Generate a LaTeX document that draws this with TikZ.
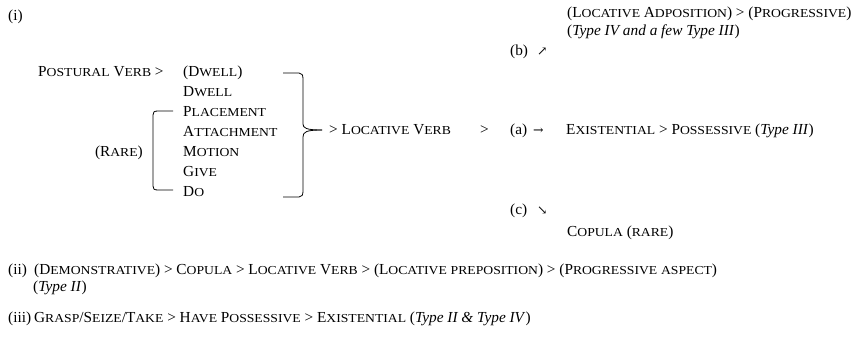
\documentclass[tikz,border=0pt]{standalone}
\usepackage{fontspec}
\setmainfont{Liberation Serif}
\newfontfamily\arrowfont{DejaVu Serif}
\newfontfamily\scfam[FakeStretch=1.12]{Liberation Serif}

% fake small caps: first letter full size, the rest smaller
\newcommand\scfont{\scfam\fontsize{12.2}{14}\selectfont}
\newcommand\sca[2]{#1{\scfont\uppercase{#2}}}

\tikzset{every node/.style={inner sep=0pt, anchor=base west, font=\fontsize{15.3}{18}\selectfont},
	arr/.style={font=\arrowfont\fontsize{12.5}{14}\selectfont}}

\begin{document}
\begin{tikzpicture}[x=1pt, y=-1pt]
			\useasboundingbox (0,0) rectangle (855,339);
			
			% Define nodes for part (i)
			\node (n1) at (8,21) {(i)};
			\node (pv) at (38,77) {\sca{P}{ostural} \sca{V}{erb} >};
			\foreach \t [count=\i] in {{(\sca{D}{well})}, {\sca{D}{well}}, {\sca{P}{lacement}},
			{\sca{A}{ttachment}}, {\sca{M}{otion}}, {\sca{G}{ive}}, {\sca{D}{o}}}
			\node (L\i) at (183,57+20*\i) {\t};
			\node[anchor=base east] (rare) at (143,157) {(\sca{R}{are})};
			
			% Draw the brackets
			\draw[line width=0.8pt] (173,111) -- (158,111) .. controls (154,111) and (153,112) .. (153,115)
			-- (153,186) .. controls (153,189) and (154,190) .. (158,190) -- (173,190);
			\draw[line width=0.8pt] (283,73) -- (299,73) .. controls (302,73) and (303,75) .. (303,79)
			-- (303,124) .. controls (303,128) and (306,130) .. (322,130);
			\draw[line width=0.8pt] (322,130) .. controls (306,130) and (303,132) .. (303,137)
			-- (303,191) .. controls (303,195) and (302,197) .. (299,197) -- (283,197);
			
			% Define nodes for the three paths
			\node (lv) at (329,135) {> \sca{L}{ocative} \sca{V}{erb}};
			\node (gt) at (480,135) {>};
			\node (a) at (510,135) {(a)};
			\node[arr] (aa) at (533,135) {→};
			\node (ex) at (566,135) {\sca{E}{xistential} > \sca{P}{ossessive} (\textit{Type III})};
			\node (b) at (510,56) {(b)};
			\node[arr] (ba) at (537,56) {↗};
			\node (la) at (567,18) {(\sca{L}{ocative} \sca{A}{dposition}) > (\sca{P}{rogressive})};
			\node (t4) at (567,36) {(\textit{Type IV and a few Type III})};
			\node (c) at (510,215) {(c)};
			\node[arr] (ca) at (537,215) {↘};
			\node (cop) at (567,237) {\sca{C}{opula} (\sca{}{rare})};
			
			% Define nodes for parts (ii) and (iii)
			\node (n2) at (8,275) {(ii)};
			\node (l2) at (34,275) {(\sca{D}{emonstrative}) > \sca{C}{opula} > \sca{L}{ocative} \sca{V}{erb} > (\sca{L}{ocative} \sca{}{preposition}) > (\sca{P}{rogressive} \sca{}{aspect})};
			\node (t2) at (33,292) {(\textit{Type II})};
			\node (n3) at (8,323) {(iii)};
			\node (l3) at (34,323) {\sca{G}{rasp}/\sca{S}{eize}/\sca{T}{ake} > \sca{H}{ave} \sca{P}{ossessive} > \sca{E}{xistential} (\textit{Type II \& Type IV})};
		\end{tikzpicture}
\end{document}
